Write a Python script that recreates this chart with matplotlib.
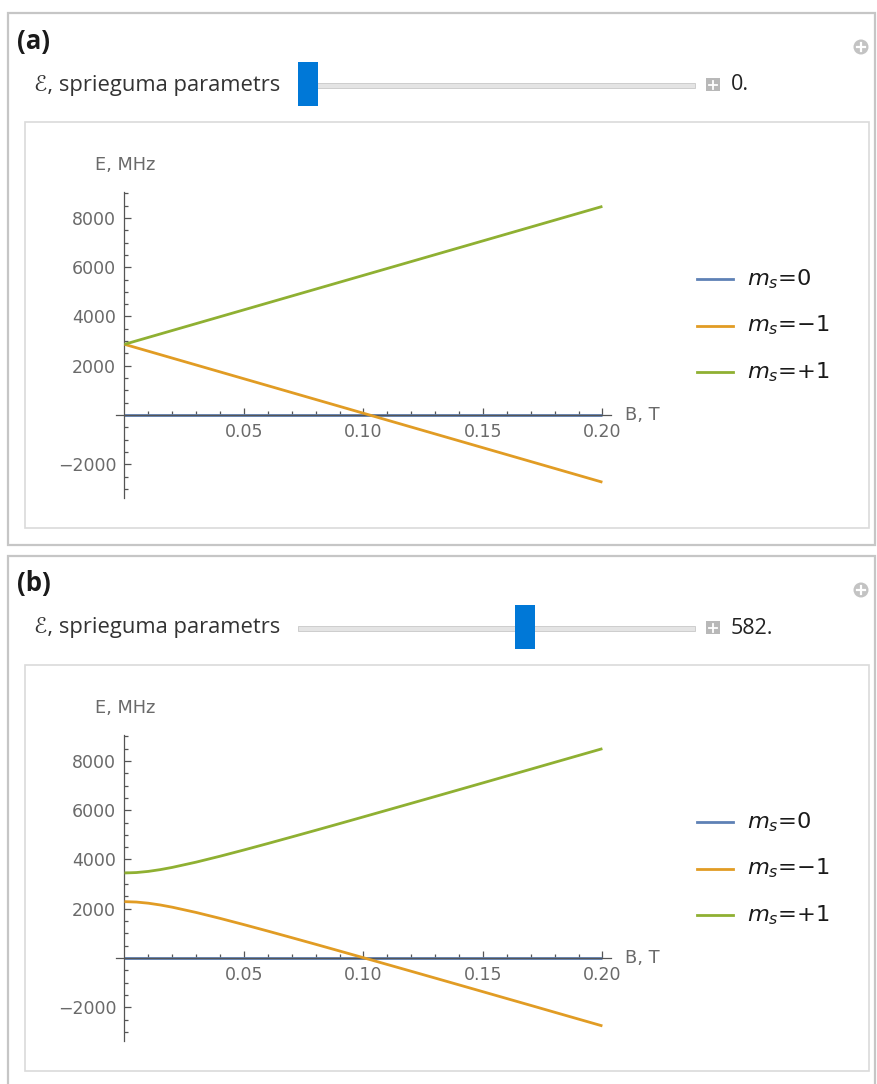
import matplotlib
matplotlib.use("Agg")
import matplotlib.pyplot as plt
from matplotlib.patches import Rectangle, Ellipse
from matplotlib.lines import Line2D

# valores
B_a = [0.0, 0.05, 0.10, 0.15, 0.20]
E_cero_a = [0, 0, 0, 0, 0]
E_menos_a = [2870, 1470, 70, -1330, -2730]
E_mas_a = [2870, 4270, 5670, 7070, 8470]

B_b = [0.0, 0.005, 0.01, 0.015, 0.02, 0.03, 0.04, 0.05, 0.06, 0.07, 0.08, 0.09, 0.10,
       0.11, 0.12, 0.13, 0.14, 0.15, 0.16, 0.17, 0.18, 0.19, 0.20]
E_cero_b = [0] * len(B_b)
E_menos_b = [2288, 2271, 2224, 2152, 2062, 1848, 1608, 1354, 1092, 825, 556, 284, 10,
             -265, -540, -816, -1093, -1370, -1648, -1925, -2204, -2482, -2760]
E_mas_b = [3452, 3469, 3516, 3588, 3678, 3892, 4132, 4386, 4648, 4915, 5184, 5456, 5730,
           6005, 6280, 6556, 6833, 7110, 7388, 7665, 7944, 8222, 8500]

ETIQUETAS = ["(a)", "(b)"]
VALORES_SLIDER = [0, 582]
ETIQUETAS_LEYENDA = ["$m_s$=0", "$m_s$=\u22121", "$m_s$=+1"]
X_TICKS = [0.05, 0.10, 0.15, 0.20]
X_TICK_LABELS = ["0.05", "0.10", "0.15", "0.20"]
Y_TICKS = [-2000, 2000, 4000, 6000, 8000]

COLORES = ["#5e81b5", "#e19c24", "#8fb032"]
GRIS_EJE = "#555555"
GRIS_TEXTO = "#6a6a6a"
FUENTE_UI = ["Open Sans", "DejaVu Sans"]
FUENTE_GRAF = ["DejaVu Sans"]

W, H = 877, 1084
plt.rcParams["mathtext.fontset"] = "dejavusans"
fig = plt.figure(figsize=(W / 100, H / 100), dpi=100)


def fx(x):
    return x / W


def fy(y):
    return 1 - y / H


def rect(x0, y0, x1, y1, **kw):
    fig.add_artist(Rectangle((fx(x0), fy(y1)), (x1 - x0) / W, (y1 - y0) / H,
                             transform=fig.transFigure, **kw))


def linea(xs, ys, **kw):
    fig.add_artist(Line2D([fx(x) for x in xs], [fy(y) for y in ys],
                          transform=fig.transFigure, **kw))


def panel(dy, etiqueta, valor, B, series):
    # marcos
    rect(8, 13 + dy, 875, 545 + dy if dy == 0 else 1100, fill=False, ec="#c6c6c6", lw=1.6)
    rect(25, 122 + dy, 869, 528 + dy, fill=False, ec="#dadada", lw=1.2)

    fig.text(fx(17), fy(41 + dy), etiqueta, fontsize=18.5, fontweight="bold",
             family=FUENTE_UI, ha="left", va="center", color="#1a1a1a")
    fig.text(fx(34), fy(85 + dy), "\u2130, sprieguma parametrs", fontsize=15.8,
             family=FUENTE_UI, ha="left", va="center", color="#333333")

    # slider
    rect(298, 83 + dy, 695, 88 + dy, fc="#e4e4e4", ec="#cdcdcd", lw=0.7)
    x_thumb = 298 + valor / 1000 * 372
    rect(x_thumb, 62 + dy, x_thumb + 20, 106 + dy, fc="#0078d7", ec="none")
    rect(706, 78 + dy, 720, 91 + dy, fc="#b8b8b8", ec="none")
    linea([709, 717], [84.5 + dy, 84.5 + dy], color="white", lw=1.3)
    linea([713, 713], [80.5 + dy, 88.5 + dy], color="white", lw=1.3)
    fig.text(fx(731), fy(85 + dy), f"{valor}.", fontsize=15.5,
             family=FUENTE_UI, ha="left", va="center", color="#222222")

    fig.add_artist(Ellipse((fx(861), fy(47 + dy)), 15 / W, 15 / H,
                           transform=fig.transFigure, fc="#c3c3c3", ec="none"))
    linea([857, 865], [47 + dy, 47 + dy], color="white", lw=1.6)
    linea([861, 861], [43 + dy, 51 + dy], color="white", lw=1.6)

    # grafica
    ax = fig.add_axes([fx(116.1), fy(498.2 + dy), (611 - 116.1) / W, (498.2 - 191.7) / H])
    ax.patch.set_alpha(0)
    for i, (E, c) in enumerate(zip(series, COLORES)):
        ax.plot(B, E, color=c, lw=2.0, solid_capstyle="butt", clip_on=False,
                zorder=2 if i == 0 else 4)
    ax.set_xlim(-0.0035, 0.2036)
    ax.set_ylim(-3380, 9067)
    for s in ["top", "right"]:
        ax.spines[s].set_visible(False)
    for s in ["left", "bottom"]:
        ax.spines[s].set_position(("data", 0))
        ax.spines[s].set_color(GRIS_EJE)
        ax.spines[s].set_linewidth(0.9)
        ax.spines[s].set_zorder(3)
    ax.set_xticks(X_TICKS)
    ax.set_xticklabels(X_TICK_LABELS)
    ax.set_xticks([i * 0.01 for i in range(1, 21) if i % 5], minor=True)
    ax.set_yticks(Y_TICKS)
    ax.set_yticks([v for v in range(-3000, 9001, 500) if v % 2000 and v != 0], minor=True)
    ax.tick_params(which="both", direction="in", color=GRIS_EJE, width=0.9,
                   labelcolor=GRIS_TEXTO, labelsize=12.5)
    ax.tick_params(which="major", length=5)
    ax.tick_params(which="minor", length=3)
    ax.tick_params(axis="x", pad=6)
    ax.tick_params(axis="y", pad=6)
    for t in ax.get_xticklabels() + ax.get_yticklabels():
        t.set_family(FUENTE_GRAF)

    fig.text(fx(125), fy(165 + dy), "E, MHz", fontsize=12.8, color=GRIS_TEXTO,
             family=FUENTE_GRAF, ha="center", va="center")
    fig.text(fx(625), fy(415 + dy), "B, T", fontsize=12.8, color=GRIS_TEXTO,
             family=FUENTE_GRAF, ha="left", va="center")

    # leyenda
    for i, (lab, c) in enumerate(zip(ETIQUETAS_LEYENDA, COLORES)):
        y = 279 + i * 46.5 + dy
        linea([697, 733], [y, y], color=c, lw=2.0)
        fig.text(fx(747), fy(y), lab, fontsize=16.2, color="#1a1a1a",
                 family=FUENTE_GRAF, ha="left", va="center")


panel(0, ETIQUETAS[0], VALORES_SLIDER[0], B_a, [E_cero_a, E_menos_a, E_mas_a])
panel(543, ETIQUETAS[1], VALORES_SLIDER[1], B_b, [E_cero_b, E_menos_b, E_mas_b])

fig.savefig("out.png", dpi=100, facecolor="white")
